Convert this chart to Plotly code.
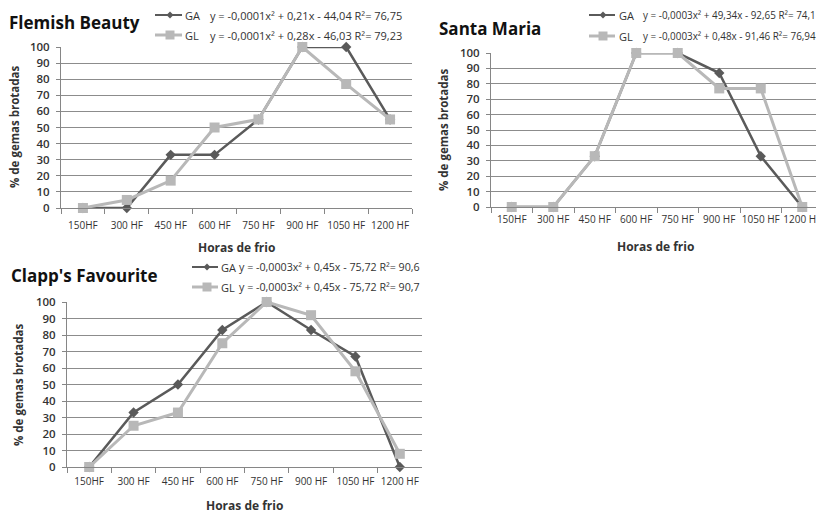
import plotly.graph_objects as go

categories = ["150HF", "300 HF", "450 HF", "600 HF", "750 HF", "900 HF", "1050 HF", "1200 HF"]

flemish_ga = [0, 0, 33, 33, 55, 100, 100, 55]
flemish_gl = [0, 5, 17, 50, 55, 100, 77, 55]
santa_ga = [0, 0, 33, 100, 100, 87, 33, 0]
santa_gl = [0, 0, 33, 100, 100, 77, 77, 0]
clapp_ga = [0, 33, 50, 83, 100, 83, 67, 0]
clapp_gl = [0, 25, 33, 75, 100, 92, 58, 8]

titles = ["Flemish Beauty", "Santa Maria", "Clapp's Favourite"]
eq_ga = ["y = -0,0001x² + 0,21x - 44,04 R²= 76,75",
         "y = -0,0003x² + 49,34x - 92,65 R²= 74,1",
         "y = -0,0003x² + 0,45x - 75,72 R²= 90,6"]
eq_gl = ["y = -0,0001x² + 0,28x - 46,03 R²= 79,23",
         "y = -0,0003x² + 0,48x - 91,46 R²= 76,94",
         "y = -0,0003x² + 0,45x - 75,72 R²= 90,7"]
y_ticks = list(range(0, 101, 10))

# page body has an 8px margin: figure drawn 8px in from the window corner
OFF = 8
W, H = 824 - OFF, 513 - OFF
DARK = "#5a5a5a"
LIGHT = "#b8b8b8"
FONT = "Open Sans"
TXT = "#333333"

# plot areas in window pixels: (left, right, top(100), bottom(0))
areas = [(61, 412, 47, 208), (491, 823, 53, 207), (67, 422, 302, 467)]
xlab_standoff = [8, 3, 5]
title_pos = [(8, 22), (438, 28), (10, 275)]
# legend: (line x0, line x1, marker x, label x, eq x, y GA, y GL)
legend_pos = [(155, 182, 170, 184, 209, 15, 35),
              (589, 615, 603, 618, 642, 15, 36),
              (192, 218, 207, 220, 238, 267, 287)]
eq_size = [11, 9.9, 10.7]
xtitle_pos = [(236, 247), (655, 246), (244, 505)]
ytitle_pos = [(14, 127), (443, 130), (18, 385)]

series = [(flemish_ga, flemish_gl), (santa_ga, santa_gl), (clapp_ga, clapp_gl)]


def px(x):
    return (x - OFF) / W


def py(y):
    return 1 - (y - OFF) / H


fig = go.Figure()
annotations = []
shapes = []
layout = {}
for i, ((ga, gl), (l, r, t, b)) in enumerate(zip(series, areas)):
    n = "" if i == 0 else str(i + 1)
    xa, ya = "x" + n, "y" + n
    fig.add_trace(go.Scatter(x=categories, y=ga, mode="lines+markers", name="GA",
                             line=dict(color=DARK, width=2.5),
                             marker=dict(symbol="diamond", size=8, color=DARK),
                             xaxis=xa, yaxis=ya, cliponaxis=False, showlegend=False))
    fig.add_trace(go.Scatter(x=categories, y=gl, mode="lines+markers", name="GL",
                             line=dict(color=LIGHT, width=3),
                             marker=dict(symbol="square", size=10, color=LIGHT),
                             xaxis=xa, yaxis=ya, cliponaxis=False, showlegend=False))
    layout["xaxis" + n] = dict(
        domain=[px(l), min(px(r), 1.0)], anchor=ya, type="category", range=[-0.5, 7.5],
        tickson="boundaries", ticks="outside", ticklen=5, tickcolor="#868686",
        showline=True, linecolor="#868686", linewidth=1, showgrid=False,
        tickangle=0, automargin=False, ticklabelstandoff=xlab_standoff[i],
        tickfont=dict(family=FONT, size=10, color=TXT), fixedrange=True)
    layout["yaxis" + n] = dict(
        domain=[py(b), py(t)], anchor=xa, range=[0, 100],
        tickvals=y_ticks, ticks="outside", ticklen=4, tickcolor="#868686",
        showline=True, linecolor="#868686", linewidth=1, automargin=False,
        showgrid=True, gridcolor="#8c8c8c", gridwidth=1, zeroline=False,
        ticklabelstandoff=4,
        tickfont=dict(family=FONT, size=11.5, color=TXT, weight=600), fixedrange=True)

    x0, x1, mx, lab_x, eq_x, y_ga, y_gl = legend_pos[i]
    shapes.append(dict(type="line", xref="paper", yref="paper", x0=px(x0), x1=px(x1),
                       y0=py(y_ga), y1=py(y_ga), line=dict(color=DARK, width=2)))
    d = 3.5
    shapes.append(dict(type="path", xref="paper", yref="paper",
                       path=f"M {px(mx)} {py(y_ga - d)} L {px(mx + d)} {py(y_ga)} "
                            f"L {px(mx)} {py(y_ga + d)} L {px(mx - d)} {py(y_ga)} Z",
                       fillcolor=DARK, line=dict(width=0)))
    shapes.append(dict(type="line", xref="paper", yref="paper", x0=px(x0), x1=px(x1),
                       y0=py(y_gl), y1=py(y_gl), line=dict(color=LIGHT, width=3)))
    s = 4.5
    shapes.append(dict(type="rect", xref="paper", yref="paper",
                       x0=px(mx - s), x1=px(mx + s), y0=py(y_gl + s), y1=py(y_gl - s),
                       fillcolor=LIGHT, line=dict(width=0)))
    for lab, eq, yy in (("GA", eq_ga[i], y_ga), ("GL", eq_gl[i], y_gl)):
        annotations.append(dict(text=lab, x=px(lab_x), y=py(yy), xref="paper", yref="paper",
                                xanchor="left", yanchor="middle", showarrow=False, borderpad=0,
                                font=dict(family=FONT, size=11, color=TXT)))
        annotations.append(dict(text=eq, x=px(eq_x), y=py(yy), xref="paper", yref="paper",
                                xanchor="left", yanchor="middle", showarrow=False, borderpad=0,
                                font=dict(family=FONT, size=eq_size[i], color=TXT)))

    tx, ty = title_pos[i]
    annotations.append(dict(text="<b>" + titles[i] + "</b>", x=px(tx), y=py(ty),
                            xref="paper", yref="paper", xanchor="left", yanchor="middle",
                            showarrow=False, borderpad=0,
                            font=dict(family=FONT, size=17, color="#111111")))
    xx, xy = xtitle_pos[i]
    annotations.append(dict(text="<b>Horas de frio</b>", x=px(xx), y=py(xy),
                            xref="paper", yref="paper", xanchor="center", yanchor="middle",
                            showarrow=False, borderpad=0,
                            font=dict(family=FONT, size=12, color=TXT)))
    yx, yy2 = ytitle_pos[i]
    annotations.append(dict(text="<b>% de gemas brotadas</b>", x=px(yx), y=py(yy2),
                            xref="paper", yref="paper", xanchor="center", yanchor="middle",
                            textangle=-90, showarrow=False,
                            font=dict(family=FONT, size=11.5, color=TXT)))

fig.update_layout(**layout)
fig.update_layout(width=W, height=H, margin=dict(l=0, r=0, t=0, b=0, autoexpand=False),
                  paper_bgcolor="white", plot_bgcolor="white",
                  annotations=annotations, shapes=shapes, showlegend=False)
fig.write_html("out.html")
